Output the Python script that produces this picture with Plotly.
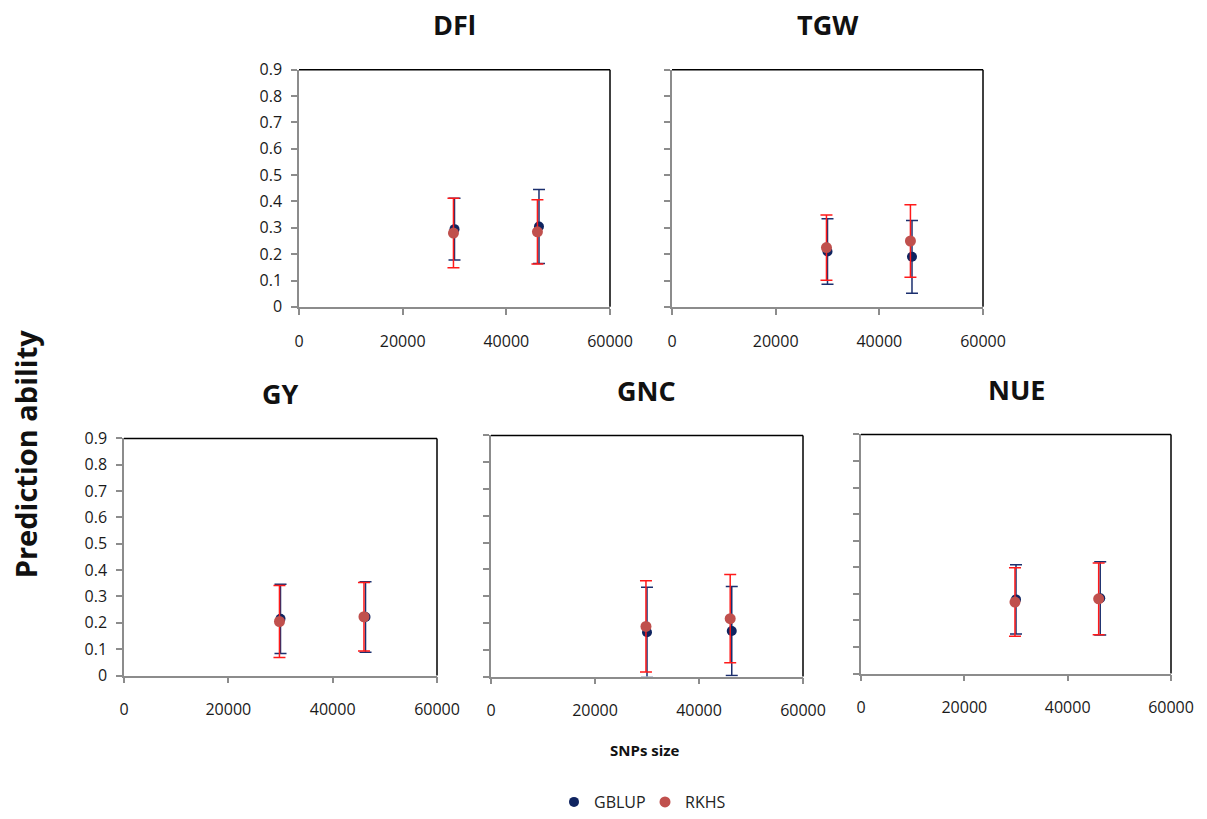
import plotly.graph_objects as go

# ---- data ----
traits = ["DFl", "TGW", "GY", "GNC", "NUE"]
snp_gblup = [30000, 46300]
snp_rkhs = [29800, 46000]

gblup_mean = {
    "DFl": [0.295, 0.305],
    "TGW": [0.21, 0.19],
    "GY": [0.215, 0.222],
    "GNC": [0.165, 0.17],
    "NUE": [0.279, 0.283],
}
gblup_sd = {
    "DFl": [0.117, 0.14],
    "TGW": [0.124, 0.138],
    "GY": [0.131, 0.134],
    "GNC": [0.168, 0.166],
    "NUE": [0.13, 0.138],
}
rkhs_mean = {
    "DFl": [0.28, 0.285],
    "TGW": [0.225, 0.25],
    "GY": [0.205, 0.223],
    "GNC": [0.187, 0.216],
    "NUE": [0.269, 0.281],
}
rkhs_sd = {
    "DFl": [0.132, 0.122],
    "TGW": [0.124, 0.138],
    "GY": [0.137, 0.13],
    "GNC": [0.17, 0.165],
    "NUE": [0.129, 0.135],
}
y_ticks = [0, 0.1, 0.2, 0.3, 0.4, 0.5, 0.6, 0.7, 0.8, 0.9]
x_ticks = [0, 20000, 40000, 60000]

# ---- layout geometry (pixels -> paper fractions) ----
W, H = 1207, 819
boxes = {
    "DFl": (299, 610, 70, 308),
    "TGW": (672, 983, 70, 308),
    "GY": (124, 437, 440, 678),
    "GNC": (491, 803, 437, 679),
    "NUE": (861, 1171, 436, 676),
}
show_ylabels = {"DFl": True, "TGW": False, "GY": True, "GNC": False, "NUE": False}

GB_MARK = "#0f2460"
GB_ERR = "#1b2f6e"
RK_MARK = "#c0504d"
RK_ERR = "#ff1a1a"
FONT = "Open Sans"

fig = go.Figure()
layout = {}
annotations = []
shapes = []

for i, t in enumerate(traits):
    n = i + 1
    xa = "x" if n == 1 else f"x{n}"
    ya = "y" if n == 1 else f"y{n}"
    l, r, tp, b = boxes[t]
    fig.add_trace(go.Scatter(
        x=snp_gblup, y=gblup_mean[t], mode="markers", name="GBLUP",
        xaxis=xa, yaxis=ya, showlegend=(n == 1), legendgroup="g",
        marker=dict(color=GB_MARK, size=10),
        error_y=dict(type="data", array=gblup_sd[t], color=GB_ERR, thickness=1.5, width=6),
        cliponaxis=False,
    ))
    fig.add_trace(go.Scatter(
        x=snp_rkhs, y=rkhs_mean[t], mode="markers", name="RKHS",
        xaxis=xa, yaxis=ya, showlegend=(n == 1), legendgroup="r",
        marker=dict(color=RK_MARK, size=11),
        error_y=dict(type="data", array=rkhs_sd[t], color=RK_ERR, thickness=1.5, width=6),
        cliponaxis=False,
    ))
    xkey = "xaxis" if n == 1 else f"xaxis{n}"
    ykey = "yaxis" if n == 1 else f"yaxis{n}"
    layout[xkey] = dict(
        domain=[l / W, r / W], anchor=ya, range=[0, 60000],
        tickvals=x_ticks, ticktext=[str(v) for v in x_ticks],
        showgrid=False, zeroline=False, showline=True, linecolor="#8c8c8c", linewidth=1.5,
        ticks="outside", ticklen=6, tickcolor="#8c8c8c", tickwidth=1.5,
        ticklabelstandoff=13, tickfont=dict(family=FONT, size=16, color="#1a1a1a"),
        fixedrange=True, automargin=False,
    )
    layout[ykey] = dict(
        domain=[1 - b / H, 1 - tp / H], anchor=xa, range=[0, 0.9],
        tickvals=y_ticks, ticktext=[("0" if v == 0 else f"{v:.1f}") for v in y_ticks],
        showticklabels=show_ylabels[t],
        showgrid=False, zeroline=False, showline=True, linecolor="#8c8c8c", linewidth=1.5,
        ticks="outside", ticklen=6, tickcolor="#8c8c8c", tickwidth=1.5,
        ticklabelstandoff=6, tickfont=dict(family=FONT, size=16, color="#1a1a1a"),
        fixedrange=True, automargin=False,
    )
    # black top and right frame edges
    shapes.append(dict(type="line", xref=f"{xa} domain", yref=f"{ya} domain",
                       x0=0, x1=1, y0=1, y1=1, line=dict(color="black", width=1.5),
                       layer="below"))
    shapes.append(dict(type="line", xref=f"{xa} domain", yref=f"{ya} domain",
                       x0=1, x1=1, y0=0, y1=1, line=dict(color="black", width=1.5),
                       layer="below"))
    annotations.append(dict(text=f"<b>{t}</b>", x=(l + r) / 2 / W, y=1 - (tp - 45) / H,
                            xref="paper", yref="paper", showarrow=False,
                            font=dict(family=FONT, size=27, color="#111"),
                            xanchor="center", yanchor="middle"))

annotations.append(dict(text="<b>Prediction ability</b>", x=25 / W, y=1 - 456 / H,
                        xref="paper", yref="paper", showarrow=False, textangle=-90,
                        font=dict(family=FONT, size=29, color="#111"),
                        xanchor="center", yanchor="middle"))
annotations.append(dict(text="<b>SNPs size</b>", x=645 / W, y=1 - 753 / H,
                        xref="paper", yref="paper", showarrow=False,
                        font=dict(family=FONT, size=15, color="#111"),
                        xanchor="center", yanchor="middle"))

fig.update_layout(
    width=W, height=H,
    margin=dict(l=0, r=0, t=0, b=0, pad=0),
    paper_bgcolor="white", plot_bgcolor="white",
    showlegend=True,
    legend=dict(orientation="h", x=(575 - 21) / W, y=1 - 805 / H, xanchor="left", yanchor="middle",
                font=dict(family=FONT, size=16, color="#222"), itemwidth=30,
                entrywidth=46, entrywidthmode="pixels",
                bgcolor="rgba(0,0,0,0)"),
    annotations=annotations,
    shapes=shapes,
    **layout,
)

fig.write_html(
    "out.html",
    post_script="document.documentElement.style.margin='0';document.body.style.margin='0';"
                "document.body.style.padding='0';document.body.style.overflow='hidden';",
)
